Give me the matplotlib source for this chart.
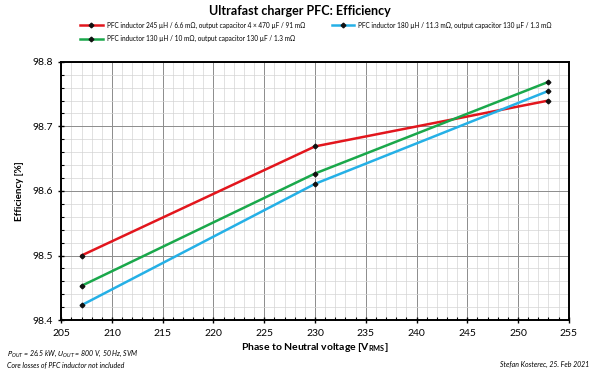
import numpy as np
import matplotlib.pyplot as plt
from matplotlib.ticker import MultipleLocator, FormatStrFormatter

plt.rcParams['font.family'] = ['Lato', 'DejaVu Sans']

voltage = [207, 230, 253]
eff_245 = [98.500, 98.669, 98.740]
eff_130 = [98.453, 98.627, 98.769]
eff_180 = [98.423, 98.611, 98.755]

labels = ['PFC inductor 245 µH / 6.6 mΩ, output capacitor 4 × 470 µF / 91 mΩ',
          'PFC inductor 130 µH / 10 mΩ, output capacitor 130 µF / 1.3 mΩ',
          'PFC inductor 180 µH / 11.3 mΩ, output capacitor 130 µF / 1.3 mΩ']
colors = ['#e2161d', '#1aa84b', '#25b0e6']

fig = plt.figure(figsize=(6, 3.77), dpi=100)
ax = fig.add_axes([0.102, 0.151, 0.846, 0.685])

for y, lab, c in zip([eff_245, eff_130, eff_180], labels, colors):
    ax.plot(voltage, y, color=c, lw=1.8, marker='D', ms=2.4,
            mfc='#111111', mec='#111111', label=lab)

ax.set_xlim(205, 255)
ax.set_ylim(98.4, 98.8)
ax.xaxis.set_major_locator(MultipleLocator(5))
ax.xaxis.set_minor_locator(MultipleLocator(1))
ax.yaxis.set_major_locator(MultipleLocator(0.1))
ax.yaxis.set_minor_locator(MultipleLocator(0.02))
ax.yaxis.set_major_formatter(FormatStrFormatter('%.1f'))
ax.grid(which='major', color='#8c8c8c', lw=0.7)
ax.grid(which='minor', color='#d4d4d4', lw=0.5)
ax.set_axisbelow(True)
ax.tick_params(which='major', direction='inout', length=5, width=1, labelsize=7.5)
ax.tick_params(axis='x', which='major', pad=4)
ax.tick_params(which='minor', direction='in', length=2.5, width=0.8)
for s in ax.spines.values():
    s.set_linewidth(1.4)
    s.set_color('black')

ax.set_xlabel('Phase to Neutral voltage [V$_{\\mathregular{RMS}}$]', fontsize=7.5,
              fontweight='bold', labelpad=2)
ax.set_ylabel('Efficiency [%]', fontsize=7, fontweight='bold', labelpad=6)

fig.text(0.5, 0.97, 'Ultrafast charger PFC: Efficiency', ha='center', va='center',
         fontsize=9, fontweight='bold')
fig.legend(loc='center', bbox_to_anchor=(0.527, 0.915), ncol=2, frameon=False,
           fontsize=4.7, handlelength=3.4, columnspacing=4.0, handletextpad=0.7,
           labelspacing=1.0)

fig.text(0.012, 0.062, '$P_{OUT}$ = 26.5 kW, $U_{OUT}$ = 800 V, 50 Hz, SVM',
         fontsize=5, style='italic', va='center')
fig.text(0.012, 0.033, 'Core losses of PFC inductor not included',
         fontsize=5, style='italic', va='center')
fig.text(0.982, 0.033, 'Stefan Kosterec, 25. Feb 2021',
         fontsize=5, style='italic', va='center', ha='right')

fig.savefig('out.png', dpi=100)
